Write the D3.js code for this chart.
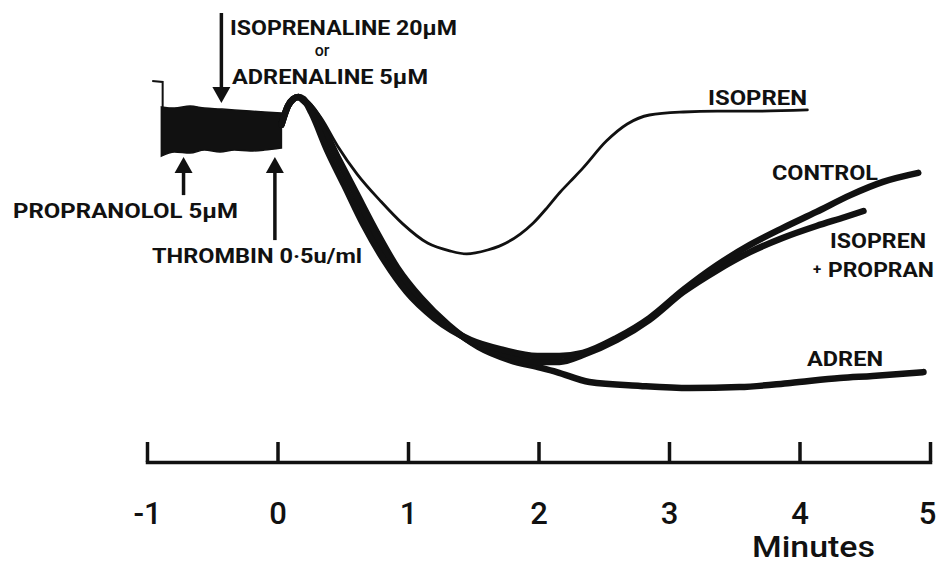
<!DOCTYPE html>
<html><head><meta charset="utf-8">
<script src="https://cdn.jsdelivr.net/npm/d3@7"></script>
<style>html,body{margin:0;padding:0;background:#fff;} svg{display:block;background:#fff}</style>
</head><body>
<svg id="chart" width="937" height="566"></svg>
<script>
// ---------- data (time in minutes, signal in arbitrary trace units) ----------
const xTicks = [-1, 0, 1, 2, 3, 4, 5];
const xTickLabels = ["-1", "0", "1", "2", "3", "4", "5"];
const xTitle = "Minutes";

// noisy baseline before thrombin (drawn as an envelope)
const bandT  = [-0.89, -0.79, -0.67, -0.56, -0.44, -0.33, -0.21, -0.10, 0.03];
const bandHi = [97.7, 97.3, 98.0, 97.3, 97.0, 96.7, 96.3, 96.0, 95.7];
const bandLo = [81.3, 82.7, 82.3, 83.3, 82.7, 83.3, 83.0, 83.3, 84.0];

// pen start mark
const penT = [-0.96, -0.88, -0.88];
const penV = [106.3, 106.0, 97.7];

const controlT = [0.03, 0.08, 0.12, 0.16, 0.20, 0.26, 0.38, 0.51, 0.66, 0.82, 0.99, 1.20, 1.48, 1.73, 1.99, 2.16, 2.34, 2.60, 2.85, 3.11, 3.37, 3.62, 3.87, 4.13, 4.39, 4.64, 4.91];
const controlV = [91.7, 98.0, 100.3, 101.0, 100.3, 95.7, 83.3, 71.7, 58.3, 46.3, 36.0, 27.3, 20.0, 16.7, 14.7, 14.7, 15.7, 20.7, 27.3, 36.7, 45.0, 51.7, 57.3, 62.7, 68.3, 72.7, 75.7];

const isoPropT = [0.03, 0.08, 0.12, 0.16, 0.20, 0.30, 0.44, 0.57, 0.72, 0.88, 1.05, 1.26, 1.51, 1.75, 1.99, 2.16, 2.34, 2.60, 2.85, 3.11, 3.37, 3.62, 3.87, 4.13, 4.35, 4.49];
const isoPropV = [91.7, 98.0, 100.3, 101.0, 100.0, 95.0, 82.3, 70.7, 57.3, 45.3, 35.0, 26.3, 18.7, 15.0, 12.7, 12.7, 15.0, 20.0, 26.7, 36.0, 43.3, 49.3, 54.0, 58.0, 61.0, 63.0];

const adrenT = [0.03, 0.08, 0.12, 0.16, 0.20, 0.31, 0.46, 0.60, 0.76, 0.92, 1.10, 1.31, 1.54, 1.78, 2.02, 2.14, 2.39, 2.78, 3.16, 3.54, 3.93, 4.31, 4.56, 4.95];
const adrenV = [91.7, 98.0, 100.3, 101.0, 99.7, 94.0, 81.0, 69.3, 56.0, 44.0, 34.0, 25.0, 17.7, 13.3, 10.7, 9.3, 6.0, 4.7, 4.0, 4.3, 5.7, 7.3, 8.0, 9.3];

const isoprenT = [0.16, 0.22, 0.33, 0.46, 0.61, 0.79, 0.96, 1.15, 1.32, 1.45, 1.61, 1.70, 1.86, 1.96, 2.07, 2.16, 2.24, 2.34, 2.52, 2.68, 2.85, 3.11, 3.37, 3.70, 4.06];
const isoprenV = [101.0, 100.0, 94.3, 84.7, 75.3, 66.3, 58.7, 52.3, 49.7, 48.7, 50.0, 51.3, 55.3, 59.0, 64.3, 69.0, 72.7, 77.3, 86.3, 92.0, 95.0, 96.0, 96.3, 96.3, 96.7];

// addition arrows: time, tip level, tail level
const arrowT    = [-0.43, -0.72, -0.02];
const arrowTip  = [99.0, 81.0, 81.0];
const arrowTail = [129.0, 68.3, 53.3];

// ---------- drawing ----------
const svg = d3.select("#chart");
const x = d3.scaleLinear().domain([-1, 5]).range([147, 930]);
const y = d3.scaleLinear().domain([0, 100]).range([400, 100]);
const ink = "#111";
const font = "Roboto, 'DejaVu Sans', sans-serif";

const zip = (t, v) => t.map((d, i) => [d, v[i]]);
const line = d3.line().x(d => x(d[0])).y(d => y(d[1])).curve(d3.curveMonotoneX);

// baseline band
const area = d3.area().x((d, i) => x(bandT[i])).y0((d, i) => y(bandLo[i])).y1((d, i) => y(bandHi[i])).curve(d3.curveMonotoneX);
svg.append("path").attr("d", area(bandT)).attr("fill", ink).attr("stroke", ink).attr("stroke-width", 1.5);

// pen start
svg.append("path").attr("d", d3.line().x(d => x(d[0])).y(d => y(d[1]))(zip(penT, penV)))
  .attr("fill", "none").attr("stroke", ink).attr("stroke-width", 2);

// thick traces
[[adrenT, adrenV], [isoPropT, isoPropV], [controlT, controlV]].forEach(([t, v]) => {
  svg.append("path").attr("d", line(zip(t, v)))
    .attr("fill", "none").attr("stroke", ink).attr("stroke-width", 6.5)
    .attr("stroke-linecap", "round").attr("stroke-linejoin", "round");
});
// thin isoprenaline trace
svg.append("path").attr("d", line(zip(isoprenT, isoprenV)))
  .attr("fill", "none").attr("stroke", ink).attr("stroke-width", 2.8)
  .attr("stroke-linecap", "round");

// arrows
arrowT.forEach((t, i) => {
  const ax = x(t), tipY = y(arrowTip[i]), tailY = y(arrowTail[i]);
  const dir = Math.sign(tipY - tailY); // +1 pointing down
  const headH = 16, halfW = 9;
  svg.append("line").attr("x1", ax).attr("x2", ax).attr("y1", tailY).attr("y2", tipY - dir * headH + dir)
    .attr("stroke", ink).attr("stroke-width", 3.5);
  svg.append("path").attr("d", `M${ax},${tipY} L${ax - halfW},${tipY - dir * headH} L${ax + halfW},${tipY - dir * headH} Z`)
    .attr("fill", ink);
});

// axis
const axis = d3.axisBottom(x).tickValues(xTicks).tickFormat((d, i) => xTickLabels[i])
  .tickSizeInner(-20).tickSizeOuter(0).tickPadding(0);
const gAxis = svg.append("g").attr("transform", "translate(0,462)").call(axis);
gAxis.select(".domain").attr("stroke", ink).attr("stroke-width", 3.5).attr("stroke-linecap", "square");
gAxis.selectAll(".tick line").attr("stroke", ink).attr("stroke-width", 3.5);
gAxis.selectAll(".tick text").attr("y", 62).attr("dy", 0).attr("fill", ink)
  .attr("dx", (d, i) => i === xTicks.length - 1 ? -3 : 0)
  .attr("font-family", font).attr("font-weight", 500).attr("font-size", 31);
svg.append("text").text(xTitle).attr("x", 752).attr("y", 557)
  .attr("textLength", 123).attr("lengthAdjust", "spacingAndGlyphs")
  .attr("font-family", font).attr("font-weight", 500).attr("font-size", 30).attr("fill", ink);

// labels
const lab = (txt, lx, ly, w, size) => {
  const t = svg.append("text").text(txt).attr("x", lx).attr("y", ly)
    .attr("font-family", font).attr("font-weight", 700)
    .attr("font-size", size).attr("fill", ink);
  if (w) t.attr("textLength", w).attr("lengthAdjust", "spacingAndGlyphs");
  return t;
};
lab("ISOPRENALINE 20μM", 230, 35, 227, 21);
lab("or", 322, 56, null, 16).attr("text-anchor", "middle").attr("font-weight", 500);
lab("ADRENALINE 5μM", 232, 84, 196, 20);
lab("PROPRANOLOL 5μM", 13, 218, 225, 21);
lab("THROMBIN 0·5u/ml", 152, 263, 210, 21);
lab("ISOPREN", 708, 105, 99, 21);
lab("CONTROL", 772, 180, 106, 21);
lab("ISOPREN", 830, 248, 96, 21);
lab("+", 813, 274, null, 15);
lab("PROPRAN", 828, 277, 106, 21);
lab("ADREN", 807, 366, 76, 21);
</script>
</body></html>
